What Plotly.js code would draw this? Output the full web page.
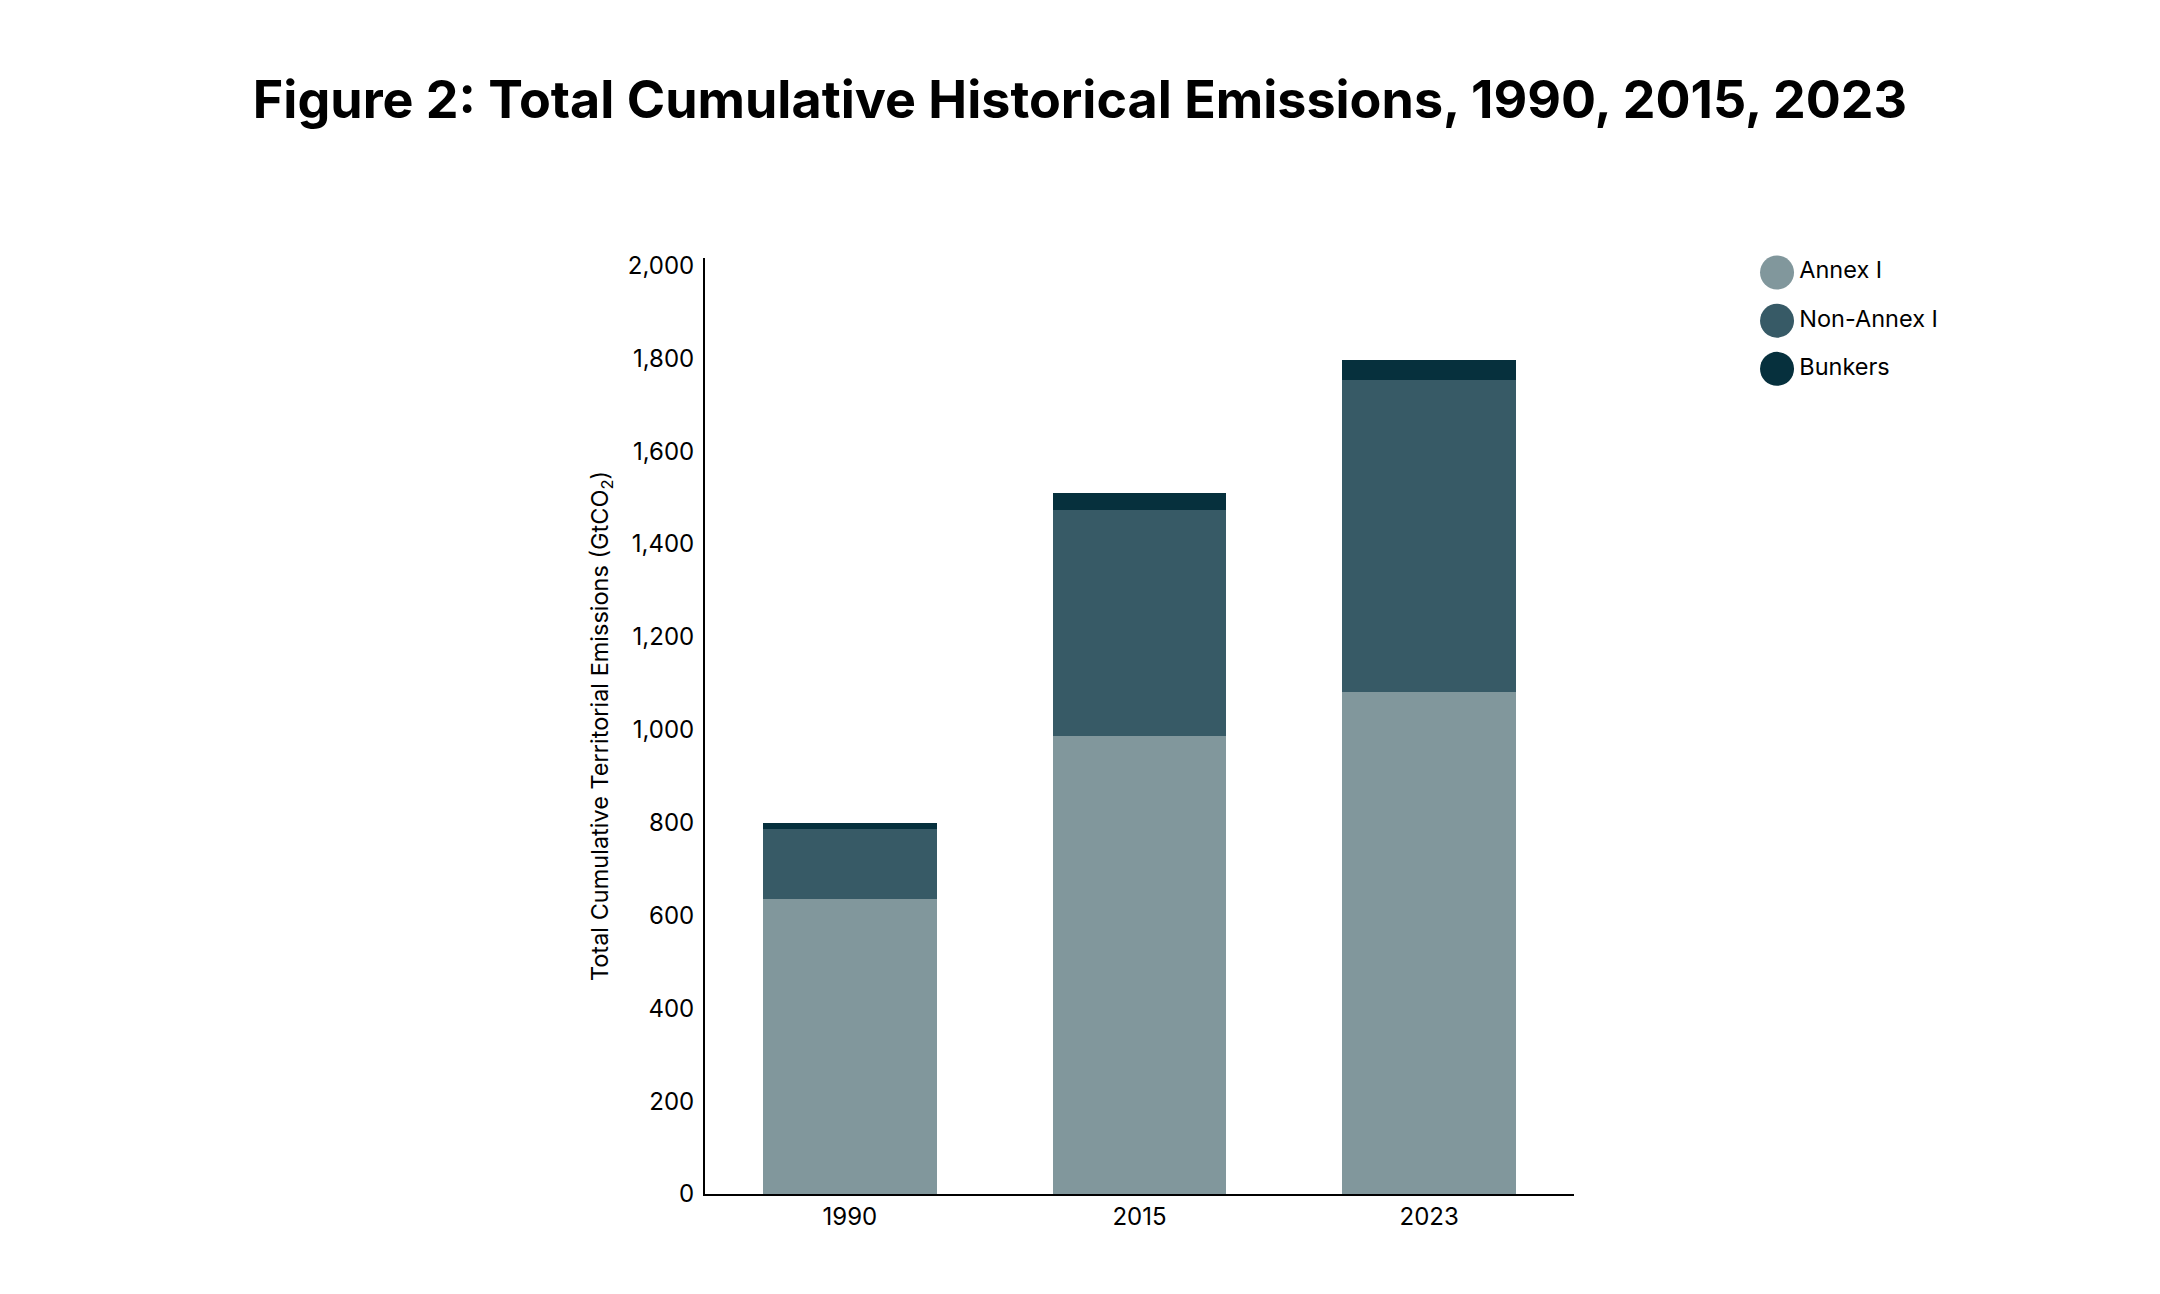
<!DOCTYPE html>
<html>
<head>
<meta charset="utf-8">
<script src="https://cdn.plot.ly/plotly-3.0.1.min.js"></script>
<style>
  html, body { margin: 0; padding: 0; background: #fff; }
  #chart { width: 2160px; height: 1294px; }
</style>
</head>
<body>
<div id="chart"></div>
<script>
// values (GtCO2)
const years = ['1990', '2015', '2023'];
const seriesNames = ['Annex I', 'Non-Annex I', 'Bunkers'];
const annexI = [636, 987, 1081];
const nonAnnexI = [150, 487, 672];
const bunkers = [14, 35, 43];
const yTicks = [0, 200, 400, 600, 800, 1000, 1200, 1400, 1600, 1800, 2000];

const colors = ['#81979c', '#375a66', '#06303d'];
const FONT = 'Inter, "Noto Sans", sans-serif';

const bars = [annexI, nonAnnexI, bunkers].map((vals, i) => ({
    type: 'bar',
    x: years,
    y: vals,
    name: seriesNames[i],
    marker: {color: colors[i], line: {width: 0}},
    showlegend: false,
    hoverinfo: 'x+y+name'
}));

// legend drawn as a scatter on a hidden axis so the dots can be big circles
const legendDots = {
    type: 'scatter',
    mode: 'markers+text',
    x: seriesNames.map(() => 0),
    y: seriesNames.map((_, i) => i),
    text: seriesNames,
    textposition: 'middle right',
    textfont: {family: FONT, size: 23.5, color: '#000'},
    marker: {size: 34, color: colors},
    xaxis: 'x2',
    yaxis: 'y2',
    showlegend: false,
    hoverinfo: 'skip',
    cliponaxis: false
};

const layout = {
    width: 2160,
    height: 1294,
    margin: {l: 0, r: 0, t: 258, b: 100},
    paper_bgcolor: '#fff',
    plot_bgcolor: '#fff',
    barmode: 'stack',
    bargap: 0.4,
    font: {family: FONT, color: '#000'},
    title: {
        text: '<b>Figure 2: Total Cumulative Historical Emissions, 1990, 2015, 2023</b>',
        font: {family: FONT, size: 52, color: '#000'},
        x: 0.5,
        xanchor: 'center',
        y: 0.923,
        yanchor: 'middle'
    },
    xaxis: {
        domain: [705 / 2160, 1574 / 2160],
        type: 'category',
        range: [-0.5, 2.5],
        showline: true,
        linecolor: '#000',
        linewidth: 2,
        showgrid: false,
        zeroline: false,
        ticks: '',
        tickfont: {family: FONT, size: 24, color: '#000'},
        automargin: false
    },
    yaxis: {
        range: [0, 2016],
        tickvals: yTicks,
        tickformat: ',d',
        showline: true,
        linecolor: '#000',
        linewidth: 2,
        showgrid: false,
        zeroline: false,
        ticks: '',
        ticklabelstandoff: 4,
        tickfont: {family: FONT, size: 24, color: '#000'},
        title: {
            text: 'Total Cumulative Territorial Emissions (GtCO<sub>2</sub>)',
            font: {family: FONT, size: 23.5, color: '#000'},
            standoff: 13
        },
        automargin: false
    },
    xaxis2: {
        domain: [0.8127, 0.9127],
        range: [-1, 9],
        visible: false,
        fixedrange: true
    },
    yaxis2: {
        domain: [0.8764, 0.9897],
        range: [2.1, -0.1],
        anchor: 'x2',
        visible: false,
        fixedrange: true
    },
    showlegend: false
};

Plotly.newPlot('chart', bars.concat([legendDots]), layout, {displayModeBar: false, responsive: false});
</script>
</body>
</html>
